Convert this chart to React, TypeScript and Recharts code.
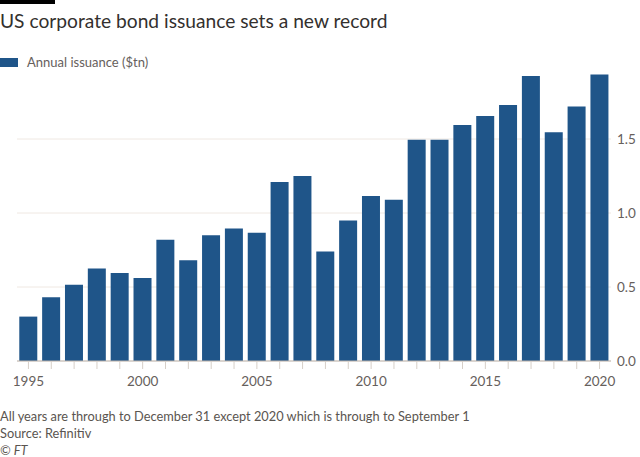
import { Bar, BarChart, CartesianGrid, XAxis, YAxis } from 'recharts';

const YEARS = [
  1995, 1996, 1997, 1998, 1999, 2000, 2001, 2002, 2003, 2004, 2005, 2006, 2007,
  2008, 2009, 2010, 2011, 2012, 2013, 2014, 2015, 2016, 2017, 2018, 2019, 2020,
];

// annual issuance, $tn
const ISSUANCE = [
  0.3, 0.43, 0.515, 0.625, 0.595, 0.56, 0.82, 0.68, 0.85, 0.895, 0.867, 1.21,
  1.25, 0.74, 0.95, 1.115, 1.09, 1.495, 1.495, 1.595, 1.655, 1.73, 1.925, 1.545,
  1.72, 1.935,
];

const Y_TICKS = [0, 0.5, 1, 1.5];

const TITLE = 'US corporate bond issuance sets a new record';
const LEGEND_LABEL = 'Annual issuance ($tn)';
const NOTE = 'All years are through to December 31 except 2020 which is through to September 1';
const SOURCE = 'Source: Refinitiv';

const BAR_FILL = '#1f5589';
const FONT = 'Lato, "Noto Sans", sans-serif';

const data = YEARS.map((year, i) => ({ year, value: ISSUANCE[i] }));

export default function App() {
  return (
    <div
      style={{
        position: 'absolute',
        left: 0,
        top: 0,
        width: 640,
        height: 457,
        background: '#ffffff',
        fontFamily: FONT,
        overflow: 'hidden',
      }}
    >
      <div style={{ position: 'absolute', left: 0, top: 0, width: 55, height: 4, background: '#000' }} />
      <div
        style={{
          position: 'absolute',
          left: 0,
          top: 9,
          fontSize: 19.2,
          color: '#33302e',
          whiteSpace: 'nowrap',
        }}
      >
        {TITLE}
      </div>
      <div style={{ position: 'absolute', left: 0, top: 58, width: 18, height: 9, background: BAR_FILL }} />
      <div
        style={{
          position: 'absolute',
          left: 27,
          top: 54,
          fontSize: 13,
          color: '#66605c',
          whiteSpace: 'nowrap',
        }}
      >
        {LEGEND_LABEL}
      </div>

      <div style={{ position: 'absolute', left: 0, top: 0 }}>
        <BarChart
          width={640}
          height={400}
          data={data}
          margin={{ top: 65, right: 0, left: 17, bottom: 9 }}
          barCategoryGap="10%"
        >
          <CartesianGrid vertical={false} stroke="#efe8e2" syncWithTicks />
          <XAxis
            dataKey="year"
            interval={0}
            height={30}
            axisLine={{ stroke: '#bdb5ad' }}
            tickLine={{ stroke: '#d6cfc8' }}
            tickSize={8}
            tickMargin={7}
            tick={{ fill: '#66605c', fontSize: 13.5, fontFamily: FONT }}
            tickFormatter={(y: number) => (y % 5 === 0 ? String(y) : '')}
          />
          <YAxis
            orientation="right"
            domain={[0, 2]}
            ticks={Y_TICKS}
            width={29}
            axisLine={false}
            tickLine={false}
            tickSize={0}
            tickMargin={6}
            tick={{ fill: '#66605c', fontSize: 13.5, fontFamily: FONT }}
            tickFormatter={(v: number) => v.toFixed(1)}
          />
          <Bar dataKey="value" fill={BAR_FILL} isAnimationActive={false} />
        </BarChart>
      </div>

      <div
        style={{
          position: 'absolute',
          left: 0,
          top: 408,
          fontSize: 12.8,
          lineHeight: '17px',
          color: '#5a5550',
          whiteSpace: 'nowrap',
        }}
      >
        <div>{NOTE}</div>
        <div>{SOURCE}</div>
        <div style={{ fontStyle: 'italic' }}>© FT</div>
      </div>
    </div>
  );
}
